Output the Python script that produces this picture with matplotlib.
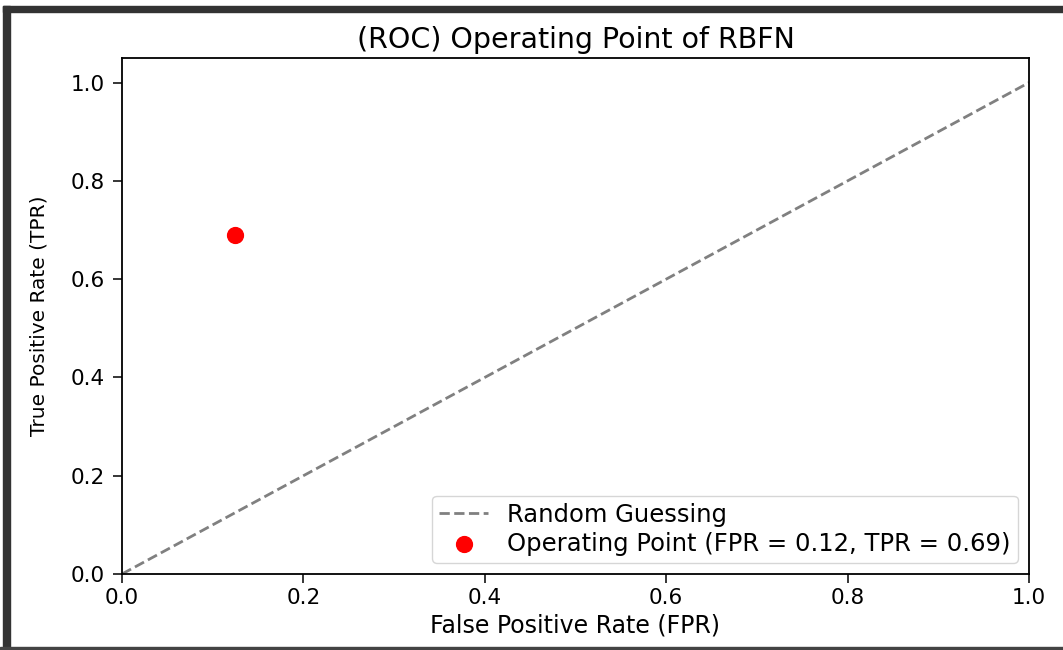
import matplotlib
matplotlib.use("Agg")
import matplotlib.pyplot as plt
from matplotlib.patches import Rectangle

# Data
diag_x = [0, 1]
diag_y = [0, 1]
fpr = 0.125
tpr = 0.69
x_ticks = [0.0, 0.2, 0.4, 0.6, 0.8, 1.0]
y_ticks = [0.0, 0.2, 0.4, 0.6, 0.8, 1.0]

fig = plt.figure(figsize=(10.63, 6.5), dpi=100)
ax = fig.add_axes([122 / 1063, 1 - 574 / 650, 907 / 1063, 516 / 650])

ax.plot(diag_x, diag_y, linestyle='--', color='gray', linewidth=2, label='Random Guessing')
ax.scatter([fpr], [tpr], color='red', s=130, zorder=3,
           label=f'Operating Point (FPR = {fpr:.2f}, TPR = {tpr:.2f})')

ax.set_xlim(0, 1.0)
ax.set_ylim(0, 1.05)
ax.set_xticks(x_ticks)
ax.set_yticks(y_ticks)
ax.tick_params(labelsize=15.5, length=6.5, width=1.1)
ax.tick_params(axis='y', pad=6)
for s in ax.spines.values():
    s.set_linewidth(1.3)
ax.set_xlabel('False Positive Rate (FPR)', fontsize=17, labelpad=4)
ax.set_ylabel('True Positive Rate (TPR)', fontsize=14.5, labelpad=16)
ax.set_title('(ROC) Operating Point of RBFN', fontsize=20.5, pad=7)
ax.legend(loc='lower right', fontsize=17.5, handlelength=2.0, borderpad=0.3,
          labelspacing=0.2, borderaxespad=0.45)

# screenshot frame
fig.patches.append(Rectangle((3 / 1063, 0), 7 / 1063, 1 - 6 / 650, transform=fig.transFigure,
                             color='#333333', zorder=10))
fig.patches.append(Rectangle((3 / 1063, 1 - 12 / 650), 1, 6 / 650, transform=fig.transFigure,
                             color='#333333', zorder=10))
fig.patches.append(Rectangle((0, 0), 1, 3 / 650, transform=fig.transFigure,
                             color='#444444', zorder=10))

fig.savefig('out.png', dpi=100)
